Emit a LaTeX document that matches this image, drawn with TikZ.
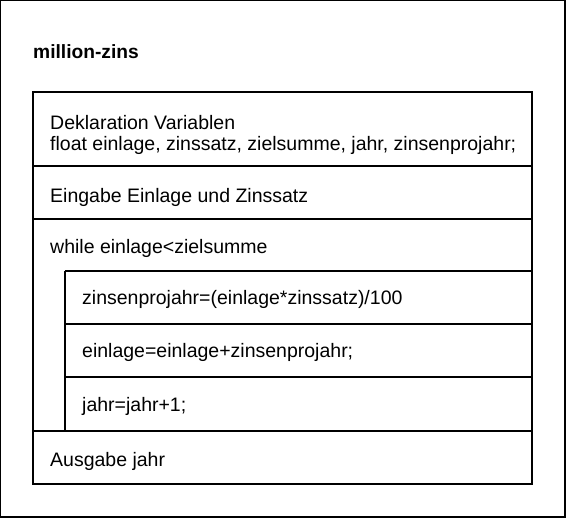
\documentclass[tikz,border=0pt]{standalone}
\usepackage{fontspec}
\setmainfont{Liberation Sans}
\begin{document}
\begin{tikzpicture}[x=1pt,y=-1pt,
  rule/.style={line width=1.1pt},
  txt/.style={anchor=base west, inner sep=0pt, font=\fontsize{19.5}{21}\selectfont},
  ttl/.style={txt, font=\fontsize{19.2}{21}\selectfont\bfseries}]
\useasboundingbox (0,0) rectangle (566,518);
% outer frame
\draw[rule] (0.6,0.6) rectangle (565,517);
\node[ttl] (title) at (33,59) {million-zins};
% structogram body
\draw[rule] (33,92) rectangle (532,484);
\draw[rule] (33,166) -- (532,166);
\draw[rule] (33,219) -- (532,219);
% loop body
\draw[rule] (65,271) -- (532,271);
\draw[rule] (65,271) -- (65,431);
\draw[rule] (65,324) -- (532,324);
\draw[rule] (65,377) -- (532,377);
\draw[rule] (33,431) -- (532,431);
% statements
\node[txt] (decl) at (50,130) {Deklaration Variablen};
\node[txt] (vars) at (50,151) {float einlage, zinssatz, zielsumme, jahr, zinsenprojahr;};
\node[txt] (input) at (50,203) {Eingabe Einlage und Zinssatz};
\node[txt] (loop) at (50,254) {while einlage<zielsumme};
\node[txt] (zins) at (82,305) {zinsenprojahr=(einlage*zinssatz)/100};
\node[txt] (add) at (82,358) {einlage=einlage+zinsenprojahr;};
\node[txt] (year) at (82,412) {jahr=jahr+1;};
\node[txt] (out) at (50,467) {Ausgabe jahr};
\end{tikzpicture}
\end{document}
